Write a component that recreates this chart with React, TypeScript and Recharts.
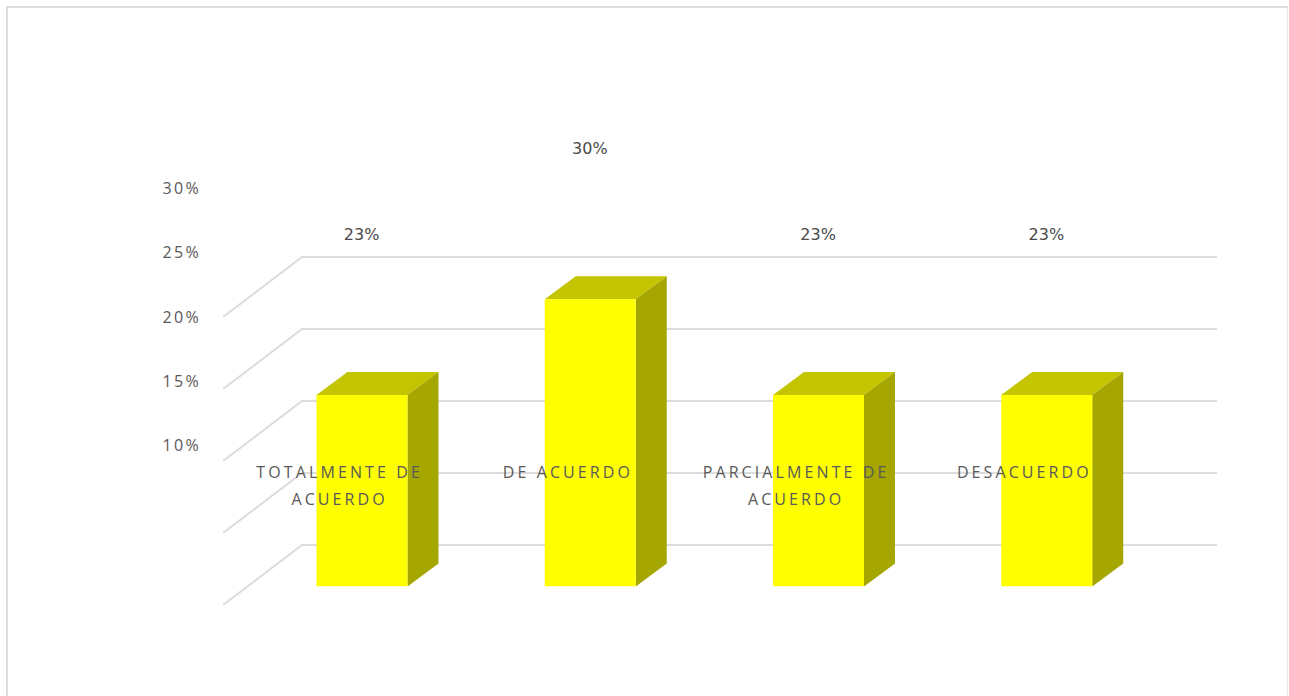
import { Bar, CartesianGrid, ComposedChart, LabelList, Line, XAxis, YAxis } from 'recharts';

const categories = ['TOTALMENTE DE ACUERDO', 'DE ACUERDO', 'PARCIALMENTE DE ACUERDO', 'DESACUERDO'];
const shares = [23, 30, 23, 23];
const percentTicks = [10, 15, 20, 25, 30];

const chartData = categories.map((name, i) => ({ name, share: shares[i] }));

const TEXT_COLOR = '#595959';
const GRID_COLOR = '#dcdcdc';
const DEPTH_X = 31;
const DEPTH_Y = 23;

// Extruded column: front face plus a darker roof and right side
function Column3D({ x, y, width, height }: any) {
  const right = x + width;
  const bottom = y + height;
  return (
    <g>
      <polygon
        points={`${x},${y} ${x + DEPTH_X},${y - DEPTH_Y} ${right + DEPTH_X},${y - DEPTH_Y} ${right},${y}`}
        fill="#c4c400"
      />
      <polygon
        points={`${right},${y} ${right + DEPTH_X},${y - DEPTH_Y} ${right + DEPTH_X},${bottom - DEPTH_Y} ${right},${bottom}`}
        fill="#a6a600"
      />
      <rect x={x} y={y} width={width} height={height} fill="#ffff00" />
    </g>
  );
}

// Gridline that runs along the back wall and folds forward along the side wall
function WallLine({ x1, y1, x2 }: any) {
  return (
    <polyline
      points={`${x1 - 24.5},${y1 + 60} ${x1 + 54.5},${y1} ${x2 + 56.5},${y1}`}
      fill="none"
      stroke={GRID_COLOR}
      strokeWidth={2}
    />
  );
}

// Percent labels stay in a fixed column left of the side wall
function ScaleTick({ y, payload }: any) {
  return (
    <text
      x={201}
      y={y}
      dy={6}
      textAnchor="end"
      fontFamily="'Open Sans', sans-serif"
      fontSize={16}
      letterSpacing={2.3}
      fill={TEXT_COLOR}
    >
      {payload.value}%
    </text>
  );
}

// Category names sit inside the plot, over the columns, on up to two lines
function CategoryTick({ x, payload }: any) {
  const words = String(payload.value).split(' ');
  const lines = words.length > 2 ? [words.slice(0, 2).join(' '), words.slice(2).join(' ')] : [payload.value];
  return (
    <text
      textAnchor="middle"
      fontFamily="'Open Sans', sans-serif"
      fontSize={16}
      letterSpacing={3.1}
      fill={TEXT_COLOR}
    >
      {lines.map((line: string, i: number) => (
        <tspan key={line} x={x - 22} y={478 + i * 27}>
          {line}
        </tspan>
      ))}
    </text>
  );
}

export default function App() {
  return (
    <div style={{ position: 'absolute', left: 0, top: 0, width: 1289, height: 696, background: '#fff', overflow: 'hidden' }}>
      <div
        style={{
          position: 'absolute',
          left: 6,
          top: 6,
          width: 1282,
          height: 700,
          boxSizing: 'border-box',
          borderTop: `2px solid ${GRID_COLOR}`,
          borderLeft: `2px solid ${GRID_COLOR}`,
          borderRight: '1px solid #e8e8e8',
        }}
      />
      <div style={{ position: 'absolute', left: 0, top: 0 }}>
        <ComposedChart
          width={1289}
          height={696}
          data={chartData}
          barCategoryGap={0}
          margin={{ top: 94, right: 128.5, bottom: 108.5, left: 0 }}
        >
          <YAxis yAxisId="wall" hide type="number" domain={[7.118, 41.32]} ticks={percentTicks} allowDataOverflow />
          <YAxis yAxisId="callout" hide type="number" domain={[-5.69, 34.4]} allowDataOverflow />
          <YAxis yAxisId="height" hide type="number" domain={[9, 45]} allowDataOverflow />
          <YAxis
            yAxisId="scale"
            type="number"
            width={247.5}
            domain={[-1.01, 37.32]}
            ticks={percentTicks}
            interval={0}
            allowDataOverflow
            axisLine={false}
            tickLine={false}
            tick={(props: any) => <ScaleTick {...props} />}
          />
          <CartesianGrid
            yAxisId="wall"
            vertical={false}
            syncWithTicks
            horizontal={(props: any) => <WallLine key={props.key} {...props} />}
          />
          <Bar
            yAxisId="height"
            dataKey="share"
            barSize={91}
            shape={(props: any) => <Column3D {...props} />}
            isAnimationActive={false}
          />
          <Line yAxisId="callout" dataKey="share" stroke="none" dot={false} isAnimationActive={false}>
            <LabelList
              dataKey="share"
              position="center"
              formatter={(v: number) => `${v}%`}
              fill="#4a4a4a"
              fontSize={16}
              fontFamily="'DejaVu Sans', sans-serif"
            />
          </Line>
          <XAxis
            dataKey="name"
            axisLine={false}
            tickLine={false}
            height={1}
            interval={0}
            tick={(props: any) => <CategoryTick {...props} />}
          />
        </ComposedChart>
      </div>
    </div>
  );
}
